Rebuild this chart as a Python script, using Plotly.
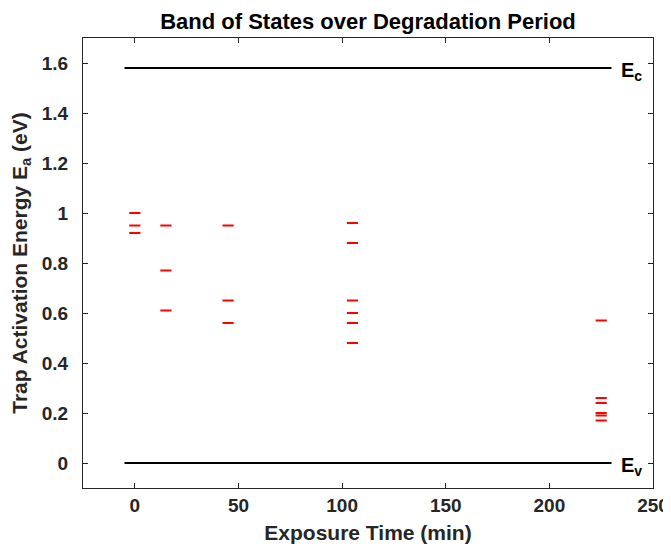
import plotly.graph_objects as go

# Exposure times (min) and the trap activation energies (eV) found at each
exposure_min = [0, 15, 45, 105, 225]
levels_t0 = [1.00, 0.95, 0.92]
levels_t15 = [0.95, 0.77, 0.61]
levels_t45 = [0.95, 0.65, 0.56]
levels_t105 = [0.96, 0.88, 0.65, 0.60, 0.56, 0.48]
levels_t225 = [0.57, 0.26, 0.24, 0.20, 0.19, 0.17]

# Band edges
band_x = [-5, 230]
E_c = 1.58
E_v = 0.0

x_ticks = [0, 50, 100, 150, 200, 250]
y_ticks = [0, 0.2, 0.4, 0.6, 0.8, 1.0, 1.2, 1.4, 1.6]

all_levels = [levels_t0, levels_t15, levels_t45, levels_t105, levels_t225]
xs, ys = [], []
for t, lv in zip(exposure_min, all_levels):
    xs += [t] * len(lv)
    ys += lv

FONT = "Liberation Sans, Arial, Helvetica, sans-serif"
AX = "#262626"

# the page places the figure 8 px from the top-left corner
W, H = 663, 539

fig = go.Figure()
fig.add_trace(go.Scatter(x=band_x, y=[E_c, E_c], mode="lines",
                         line=dict(color="black", width=2), showlegend=False))
fig.add_trace(go.Scatter(x=band_x, y=[E_v, E_v], mode="lines",
                         line=dict(color="black", width=2), showlegend=False))
fig.add_trace(go.Scatter(x=xs, y=ys, mode="markers",
                         marker=dict(symbol="line-ew", size=8, color="red",
                                     line=dict(color="red", width=2)),
                         showlegend=False))

fig.add_annotation(x=band_x[1], y=E_c, text="<b>E<sub>c</sub></b>", showarrow=False,
                   xanchor="left", yanchor="middle", xshift=7, yshift=-3,
                   font=dict(size=20, color="black", family=FONT))
fig.add_annotation(x=band_x[1], y=E_v, text="<b>E<sub>v</sub></b>", showarrow=False,
                   xanchor="left", yanchor="middle", xshift=7, yshift=-3,
                   font=dict(size=20, color="black", family=FONT))

axis_common = dict(showline=True, mirror="ticks", linecolor=AX, linewidth=1,
                   ticks="inside", ticklen=5, tickwidth=1, tickcolor=AX,
                   showgrid=False, zeroline=False, automargin=False,
                   tickfont=dict(size=19, color=AX, family=FONT, weight="bold"))

fig.update_xaxes(range=[-25, 250], tickvals=x_ticks, ticklabelstandoff=0,
                 title=dict(text="<b>Exposure Time (min)</b>", standoff=10,
                            font=dict(size=21, color=AX, family=FONT)),
                 **axis_common)
fig.update_yaxes(range=[-0.1, 1.7], tickvals=y_ticks, ticklabelstandoff=10,
                 title=dict(text="<b>Trap Activation Energy E<sub>a</sub> (eV)</b>", standoff=10,
                            font=dict(size=21, color=AX, family=FONT)),
                 **axis_common)

fig.update_layout(
    width=W, height=H,
    margin=dict(l=75, r=18, t=30, b=59),
    plot_bgcolor="white", paper_bgcolor="white",
    title=dict(text="<b>Band of States over Degradation Period</b>",
               x=(75 + 645) / 2 / W, xanchor="center", y=1 - 13 / H, yanchor="middle",
               font=dict(size=22, color="black", family=FONT)),
)

fig.write_html("out.html")
